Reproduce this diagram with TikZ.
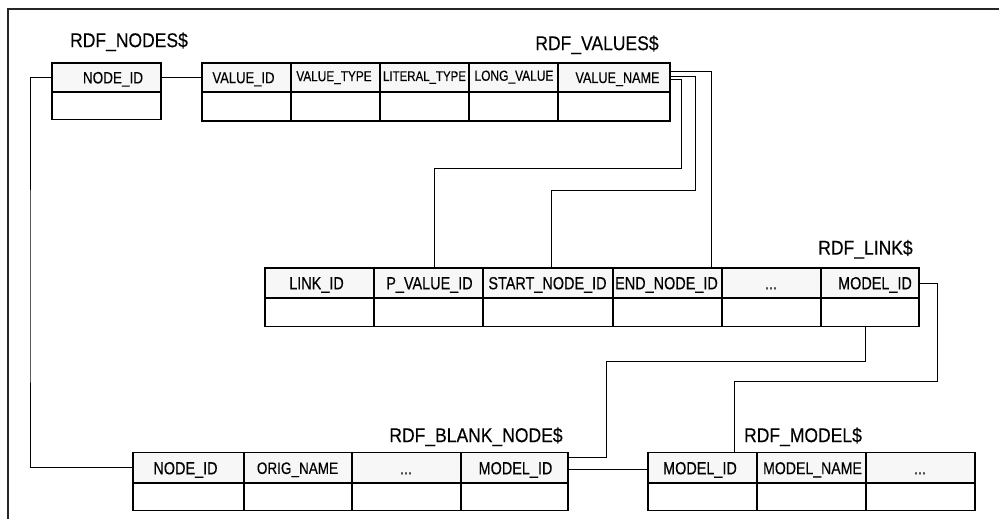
\documentclass[tikz,border=0pt]{standalone}
\usepackage{fontspec}
\newfontfamily\af[FakeStretch=0.82,FakeBold=0.3]{Liberation Sans}
\newfontfamily\tf[FakeStretch=0.88,FakeBold=0.3]{Liberation Sans}
\begin{document}
\begin{tikzpicture}[x=1pt,y=-1pt,
  cell/.style 2 args={draw=black, line width=1.4pt, anchor=north west, inner sep=0pt, outer sep=0pt, minimum width=#1, minimum height=#2},
  hdr/.style 2 args={cell={#1}{#2}, fill=black!3},
  lbl/.style 2 args={font=\af\fontsize{#1}{#1}\selectfont, text height=#2, text depth=0pt, inner sep=0pt},
  ttl/.style={font=\tf\fontsize{19.9}{19.9}\selectfont, text height=14.2pt, text depth=0pt, inner sep=0pt},
  conn/.style={draw=black, line width=1pt},
  frame/.style={draw=black!85, line width=2pt}]
\useasboundingbox (0,0) rectangle (999,519);
\draw[frame] (8,519) -- (8,9) -- (999,9);

% RDF_NODES$
\node[ttl] (tnodes) at (129,40) {RDF\_NODES\$};
\node[hdr={109pt}{29pt}] (nn) at (52,63) {};
\node[cell={109pt}{27.5pt}] (nnd) at (52,92) {};
\node[lbl={16.5}{11.8pt}] (tnn) at (113,77.5) {NODE\_ID};

% RDF_VALUES$
\node[ttl] (tvalues) at (597,43) {RDF\_VALUES\$};
\node[hdr={89pt}{29pt}] (v1) at (202,63) {};
\node[hdr={89pt}{29pt}] (v2) at (291,63) {};
\node[hdr={89pt}{29pt}] (v3) at (380,63) {};
\node[hdr={89pt}{29pt}] (v4) at (469,63) {};
\node[hdr={112pt}{29pt}] (v5) at (558,63) {};
\node[cell={89pt}{29pt}] (v1d) at (202,92) {};
\node[cell={89pt}{29pt}] (v2d) at (291,92) {};
\node[cell={89pt}{29pt}] (v3d) at (380,92) {};
\node[cell={89pt}{29pt}] (v4d) at (469,92) {};
\node[cell={112pt}{29pt}] (v5d) at (558,92) {};
\node[lbl={15.9}{11.4pt}] (tv1) at (243.5,77.5) {VALUE\_ID};
\node[lbl={14.4}{10.3pt}] (tv2) at (334,76) {VALUE\_TYPE};
\node[lbl={14}{10pt}] (tv3) at (424.5,76) {LITERAL\_TYPE};
\node[lbl={14.6}{10.5pt}] (tv4) at (514,75.5) {LONG\_VALUE};
\node[lbl={15.4}{11pt}] (tv5) at (617.5,77.5) {VALUE\_NAME};

% RDF_LINK$
\node[ttl] (tlink) at (865.5,247.5) {RDF\_LINK\$};
\node[hdr={109pt}{30pt}] (l1) at (265,268) {};
\node[hdr={109pt}{30pt}] (l2) at (374,268) {};
\node[hdr={130pt}{30pt}] (l3) at (483,268) {};
\node[hdr={109pt}{30pt}] (l4) at (613,268) {};
\node[hdr={99pt}{30pt}] (l5) at (722,268) {};
\node[hdr={98pt}{30pt}] (l6) at (821,268) {};
\node[cell={109pt}{28.5pt}] (l1d) at (265,298) {};
\node[cell={109pt}{28.5pt}] (l2d) at (374,298) {};
\node[cell={130pt}{28.5pt}] (l3d) at (483,298) {};
\node[cell={109pt}{28.5pt}] (l4d) at (613,298) {};
\node[cell={99pt}{28.5pt}] (l5d) at (722,298) {};
\node[cell={98pt}{28.5pt}] (l6d) at (821,298) {};
\node[lbl={17.6}{12.6pt}] (tl1) at (316.5,283) {LINK\_ID};
\node[lbl={17.6}{12.6pt}] (tl2) at (429.5,283) {P\_VALUE\_ID};
\node[lbl={17.6}{12.6pt}] (tl3) at (547.5,283) {START\_NODE\_ID};
\node[lbl={17.6}{12.6pt}] (tl4) at (666.5,283) {END\_NODE\_ID};
\node[lbl={17.6}{12.6pt}] (tl5) at (771,283) {...};
\node[lbl={17.6}{12.6pt}] (tl6) at (875,283) {MODEL\_ID};

% RDF_BLANK_NODE$
\node[ttl] (tblank) at (476,435) {RDF\_BLANK\_NODE\$};
\node[hdr={111pt}{30.5pt}] (b1) at (133,452.5) {};
\node[hdr={108pt}{30.5pt}] (b2) at (244,452.5) {};
\node[hdr={109pt}{30.5pt}] (b3) at (352,452.5) {};
\node[hdr={107pt}{30.5pt}] (b4) at (461,452.5) {};
\node[cell={111pt}{27.5pt}] (b1d) at (133,483) {};
\node[cell={108pt}{27.5pt}] (b2d) at (244,483) {};
\node[cell={109pt}{27.5pt}] (b3d) at (352,483) {};
\node[cell={107pt}{27.5pt}] (b4d) at (461,483) {};
\node[lbl={17.6}{12.6pt}] (tb1) at (185.5,468) {NODE\_ID};
\node[lbl={16.5}{11.8pt}] (tb2) at (297.5,468) {ORIG\_NAME};
\node[lbl={17.6}{12.6pt}] (tb3) at (406,468) {...};
\node[lbl={17.6}{12.6pt}] (tb4) at (515.5,468) {MODEL\_ID};

% RDF_MODEL$
\node[ttl] (tmodel) at (803,435) {RDF\_MODEL\$};
\node[hdr={109pt}{30.5pt}] (m1) at (648,452.5) {};
\node[hdr={109pt}{30.5pt}] (m2) at (757,452.5) {};
\node[hdr={109pt}{30.5pt}] (m3) at (866,452.5) {};
\node[cell={109pt}{27.5pt}] (m1d) at (648,483) {};
\node[cell={109pt}{27.5pt}] (m2d) at (757,483) {};
\node[cell={109pt}{27.5pt}] (m3d) at (866,483) {};
\node[lbl={17.6}{12.6pt}] (tm1) at (700,468) {MODEL\_ID};
\node[lbl={17.2}{12.3pt}] (tm2) at (812.5,468) {MODEL\_NAME};
\node[lbl={17.6}{12.6pt}] (tm3) at (920,468) {...};

% connectors
\draw[conn] (nn.east) -- (v1.west);
\draw[conn] (nn.west) -| (30,300) |- (b1.west);
\draw[conn] ([yshift=5.8pt]v5.east) -| (l4.north -| 711.5,0);
\draw[conn] ([yshift=0.8pt]v5.east) -| (695.5,190) -| (l3.north -| 551,0);
\draw[conn] ([yshift=-1.8pt]v5.east) -| (681.7,168) -| (l2.north -| 434,0);
\draw[conn] (l6.east) -| (937.7,381.7) -| (m1.north -| 734,0);
\draw[conn] (l6d.south -| 865.7,0) |- (606.7,361.7) |- ([yshift=10.4pt]b4.east);
\draw[conn] ([yshift=-1.5pt]b4.east) -- ([yshift=-1.5pt]m1.west);
\end{tikzpicture}
\end{document}
